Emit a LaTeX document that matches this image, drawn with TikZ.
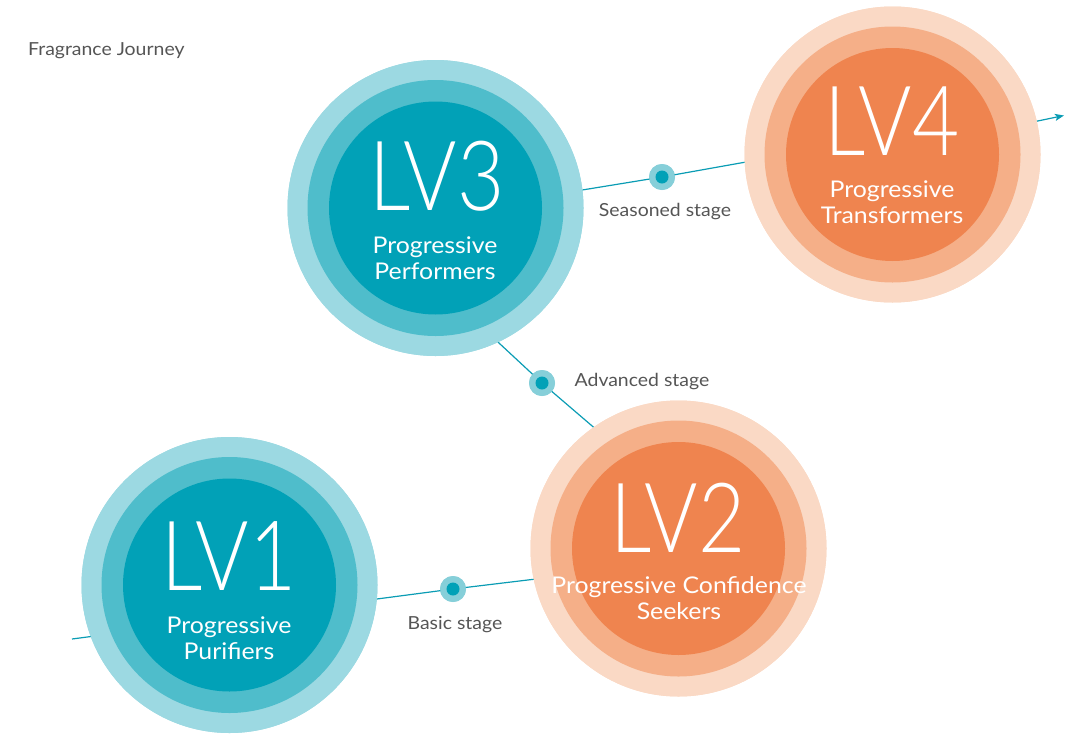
\documentclass[tikz,border=0pt]{standalone}
\usepackage{fontspec}
\setmainfont{Lato}[FakeStretch=1.08]
\newfontfamily\lvfont{Lato Light}[FakeStretch=0.84]
\usetikzlibrary{arrows.meta}

\definecolor{tealOuter}{HTML}{9CD9E2}
\definecolor{tealMid}{HTML}{4FBDCB}
\definecolor{tealInner}{HTML}{01A1B7}
\definecolor{orangeOuter}{HTML}{FAD9C5}
\definecolor{orangeMid}{HTML}{F5AF88}
\definecolor{orangeInner}{HTML}{EF844F}
\definecolor{pathLine}{HTML}{0A9CB4}
\definecolor{dotOuter}{HTML}{86CFD9}
\definecolor{labelGrey}{HTML}{555555}

\tikzset{
  level/.style={circle, minimum size=296pt, inner sep=0pt, outer sep=0pt},
  tealLevel/.style={level, fill=tealOuter},
  orangeLevel/.style={level, fill=orangeOuter},
  lvtext/.style={text=white, font=\lvfont\fontsize{97}{97}\selectfont, anchor=base, inner sep=0pt},
  % multi-line names are anchored on the baseline of their last line
  nametext/.style={text=white, font=\fontsize{23}{26}\selectfont, align=center, anchor=base, inner sep=0pt},
  stagelabel/.style={text=labelGrey, font=\fontsize{18}{20}\selectfont, inner sep=0pt},
  stagedot/.style={circle, fill=dotOuter, minimum size=26pt, inner sep=0pt},
  track/.style={draw=pathLine, line width=1.2pt},
}

\newcommand{\levelrings}[3]{%
  \fill[#2] (#1.center) circle[radius=128pt];
  \fill[#3] (#1.center) circle[radius=106.5pt];
}

\begin{document}
\begin{tikzpicture}[x=1pt, y=-1pt]
\useasboundingbox (0,0) rectangle (1076,734);

% level circles (placed first so the track can refer to them)
\node[tealLevel]   (lv1) at (229.5,585) {};
\node[orangeLevel] (lv2) at (678.5,548.5) {};
\node[tealLevel]   (lv3) at (435.5,208) {};
\node[orangeLevel] (lv4) at (892.5,154.5) {};

% stage markers on the track
\coordinate (start) at (72,639);
\coordinate (finish) at (1064,115.5);
\node[stagedot] (basic) at (453,589) {};
\node[stagedot] (advanced) at (542,383) {};
\node[stagedot] (seasoned) at (662,177) {};

% track segments
\draw[track] (start) -- (basic.center) -- (lv2.192);
\draw[track] (lv3.-65.2) -- (advanced.center) -- (lv2.125.5);
\draw[track] (lv3.7.8) -- (seasoned.center) -- (lv4.183.3);
\draw[track, -{Stealth[length=9pt, width=7pt, inset=2pt]}] (lv4.13.4) -- (finish);

% repaint circles over the track
\node[tealLevel]   at (lv1.center) {};
\node[orangeLevel] at (lv2.center) {};
\node[tealLevel]   at (lv3.center) {};
\node[orangeLevel] at (lv4.center) {};
\levelrings{lv1}{tealMid}{tealInner}
\levelrings{lv2}{orangeMid}{orangeInner}
\levelrings{lv3}{tealMid}{tealInner}
\levelrings{lv4}{orangeMid}{orangeInner}

% stage dots
\node[stagedot] at (basic.center) {};
\node[stagedot] at (advanced.center) {};
\node[stagedot] at (seasoned.center) {};
\fill[tealInner] (basic.center) circle[radius=6.5pt];
\fill[tealInner] (advanced.center) circle[radius=6.5pt];
\fill[tealInner] (seasoned.center) circle[radius=6.5pt];

% level texts
\node[lvtext] (lv1t) at (229,590) {LV1};
\node[nametext] (lv1n) at (229,659) {Progressive\\Purifiers};
\node[lvtext] (lv2t) at (678,552) {LV2};
\node[nametext] (lv2n) at (679,619) {Progressive Confidence\\Seekers};
\node[lvtext] (lv3t) at (437,210) {LV3};
\node[nametext] (lv3n) at (435,279) {Progressive\\Performers};
\node[lvtext] (lv4t) at (892,155) {LV4};
\node[nametext] (lv4n) at (892,223) {Progressive\\Transformers};

% stage labels
\node[stagelabel] (basicl) at (455,625) {Basic stage};
\node[stagelabel] (advancedl) at (642,382) {Advanced stage};
\node[stagelabel] (seasonedl) at (665,212) {Seasoned stage};

% title
\node[text=labelGrey, font=\fontsize{18}{22}\selectfont, anchor=base west, inner sep=0pt] (title) at (28,55) {Fragrance Journey};
\end{tikzpicture}
\end{document}
